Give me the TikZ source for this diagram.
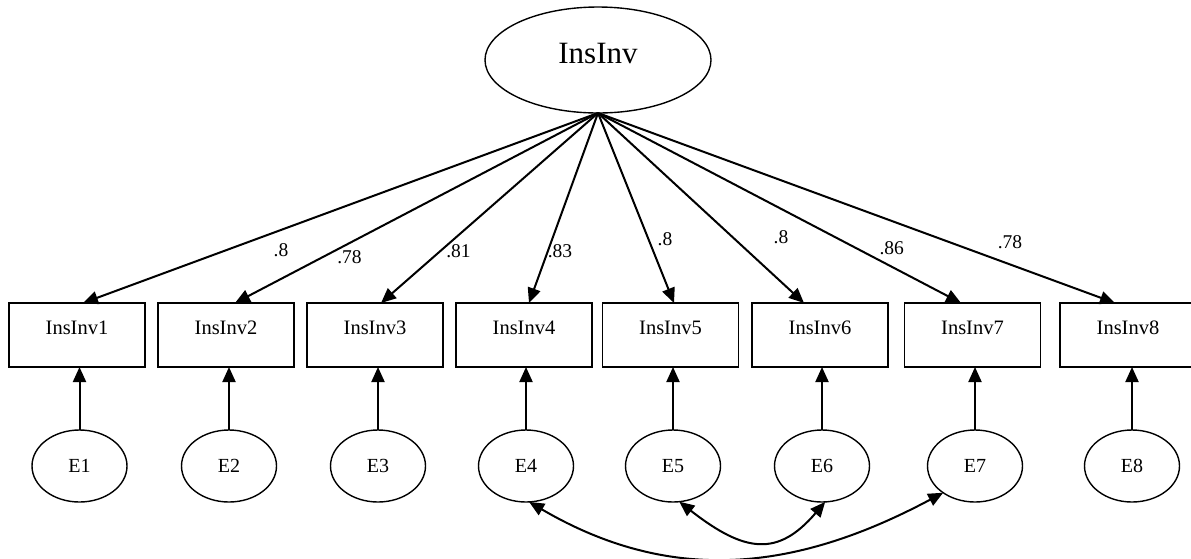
\documentclass[tikz,border=0pt]{standalone}
\usepackage{fontspec}
\setmainfont{Liberation Serif}
\usetikzlibrary{arrows.meta,calc,shapes.geometric}
\begin{document}
\begin{tikzpicture}[x=1pt,y=-1pt,
  latent/.style={draw,line width=1.4pt,ellipse,inner sep=0pt,outer sep=0pt,
    minimum width=226pt,minimum height=106pt,
    font=\fontsize{31}{34}\selectfont,text height=20.5pt,text depth=13.9pt},
  errvar/.style={draw,line width=1.4pt,ellipse,inner sep=0pt,outer sep=0pt,
    minimum width=95pt,minimum height=72pt,font=\fontsize{20}{24}\selectfont},
  obsbox/.style={draw,line width=1.7pt,rectangle,inner sep=0pt,outer sep=0pt,
    minimum width=136pt,minimum height=64pt,font=\fontsize{20.5}{24}\selectfont,
    text height=13.2pt,text depth=14.6pt},
  loadlab/.style={inner sep=0pt,font=\fontsize{19.5}{22}\selectfont},
  tip/.style={Triangle[length=15pt,width=13pt]},
  arr/.style={line width=2pt,-{Triangle[length=15pt,width=13pt]}},
  covarr/.style={line width=2pt,{Triangle[length=15pt,width=13pt]}-{Triangle[length=15pt,width=13pt]}}
]
\useasboundingbox (0,0) rectangle (1191,558);

% latent factor
\node[latent] (L) at (598,60) {InsInv};

% indicators
\node[obsbox] (b1) at (77,335)    {InsInv1};
\node[obsbox] (b2) at (226,335)   {InsInv2};
\node[obsbox] (b3) at (375,335)   {InsInv3};
\node[obsbox] (b4) at (524,335)   {InsInv4};
\node[obsbox] (b5) at (670.5,335) {InsInv5};
\node[obsbox] (b6) at (820,335)   {InsInv6};
\node[obsbox] (b7) at (972.5,335) {InsInv7};
\node[obsbox] (b8) at (1128,335)  {InsInv8};

% error terms
\node[errvar] (e1) at (79.5,466) {E1};
\node[errvar] (e2) at (229,466)  {E2};
\node[errvar] (e3) at (378,466)  {E3};
\node[errvar] (e4) at (526,466)  {E4};
\node[errvar] (e5) at (673,466)  {E5};
\node[errvar] (e6) at (822,466)  {E6};
\node[errvar] (e7) at (975,466)  {E7};
\node[errvar] (e8) at (1132,466) {E8};

% factor loadings
\draw[arr] (L.south) -- ($(b1.north)+(6,0)$);
\draw[arr] (L.south) -- ($(b2.north)+(9,0)$);
\draw[arr] (L.south) -- ($(b3.north)+(6,0)$);
\draw[arr] (L.south) -- ($(b4.north)+(5,0)$);
\draw[arr] (L.south) -- ($(b5.north)+(3.5,0)$);
\draw[arr] (L.south) -- ($(b6.north)+(-16,0)$);
\draw[arr] (L.south) -- ($(b7.north)+(-11.5,0)$);
\draw[arr] (L.south) -- ($(b8.north)+(-13,0)$);

\node[loadlab] (l1) at (281,250)   {.8};
\node[loadlab] (l2) at (349.5,257.5) {.78};
\node[loadlab] (l3) at (458.5,250.7) {.81};
\node[loadlab] (l4) at (560,250.7) {.83};
\node[loadlab] (l5) at (665,238.8) {.8};
\node[loadlab] (l6) at (781,237)   {.8};
\node[loadlab] (l7) at (891.7,248) {.86};
\node[loadlab] (l8) at (1010,242.5) {.78};

% error paths
\foreach \i in {1,...,8}
  \draw[arr] (e\i) -- (e\i |- b\i.south);

% error covariances
\draw[covarr] (e4.275) .. controls (676,588) and (802,568) .. (e7.220);
\draw[covarr] (e5.280) .. controls (745,553) and (778,557) .. (e6.275);
\end{tikzpicture}
\end{document}
